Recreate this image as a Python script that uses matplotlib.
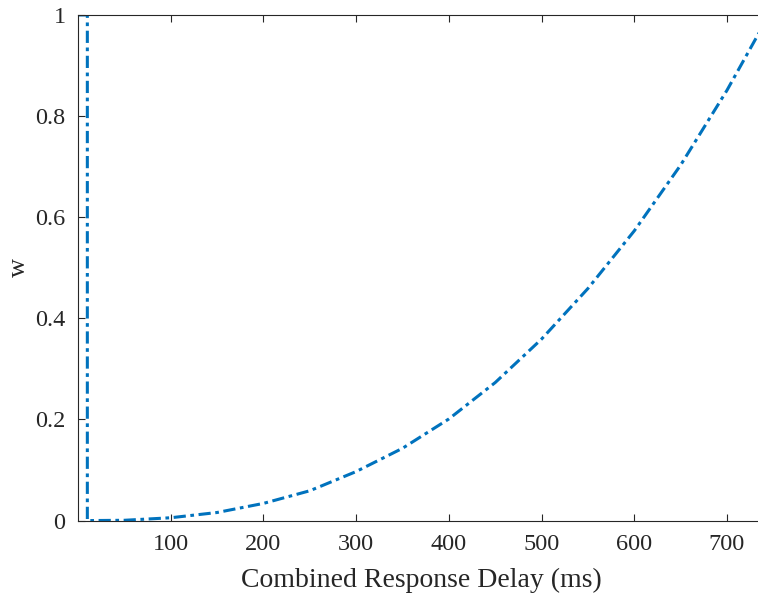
import numpy as np
import matplotlib.pyplot as plt

# combined response delay (ms) and weight w
delay = [0, 10, 10, 50, 100, 150, 200, 250, 300, 350, 400, 450, 500, 550, 600, 650, 700, 735]
w = [1, 1, 0, 0.0006, 0.0056, 0.016, 0.034, 0.059, 0.097, 0.143, 0.201, 0.273, 0.359, 0.459, 0.573, 0.703, 0.851, 0.966]

xticks = [100, 200, 300, 400, 500, 600, 700]
yticks = [0, 0.2, 0.4, 0.6, 0.8, 1]
yticklabels = ["0", "0.2", "0.4", "0.6", "0.8", "1"]

plt.rcParams["font.family"] = ["Liberation Serif", "DejaVu Serif"]

fig = plt.figure(figsize=(7.58, 5.97), dpi=100)
# right edge of the box sits just outside the canvas, as in the reference
ax = fig.add_axes([0.103, 0.128, 0.905, 0.847])

ax.plot(delay, w, color=(0, 0.447, 0.741), linewidth=2.2, linestyle=(0, (4, 1.5, 1.2, 1.5)))

ax.set_xlim(0, 740)
ax.set_ylim(0, 1)
ax.set_xticks(xticks)
ax.set_yticks(yticks)
ax.set_yticklabels(yticklabels)

gray = (0.15, 0.15, 0.15)
for s in ax.spines.values():
    s.set_color(gray)
    s.set_linewidth(0.8)
ax.spines["right"].set_visible(False)
ax.tick_params(direction="in", top=True, right=False, length=5, width=0.8,
               colors=gray, labelsize=17.5, labelcolor=gray)
ax.tick_params(axis="x", pad=10)
ax.tick_params(axis="y", pad=9)

ax.set_xlabel("Combined Response Delay (ms)", fontsize=20, color=gray, labelpad=9)
ax.set_ylabel("w", fontsize=19, color=gray, labelpad=4)

fig.savefig("out.png", dpi=100)
